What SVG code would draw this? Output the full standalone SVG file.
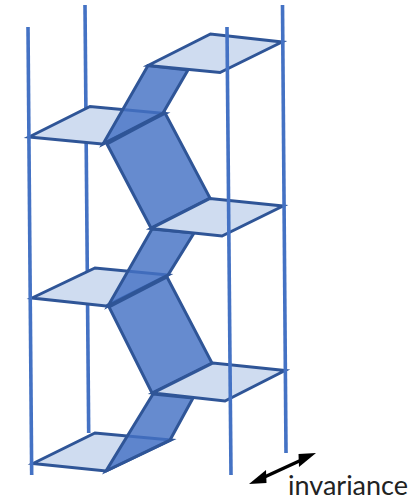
<svg xmlns="http://www.w3.org/2000/svg" width="414" height="501" viewBox="0 0 414 501">
<style>
.v{stroke:#4472c4;stroke-width:3.6;fill:none}
.p{fill:#cfdcf0;stroke:#2f5597;stroke-width:3;stroke-linejoin:miter}
.r{fill:#4472c4;fill-opacity:.82;stroke:#2f5597;stroke-width:3;stroke-linejoin:miter}
text{font-family:"Lato","Open Sans",sans-serif;font-size:27px;fill:#222}
</style>
<g id="connectors-back">
<path class="v" d="M85 5L88.700 433"/>
</g>
<g id="plane-2"><path class="p" d="M29 137L90 106.500L165 113.500L102 144Z"/></g>
<g id="plane-4"><path class="p" d="M32 298L95 268L168 275L106 306Z"/></g>
<g id="plane-6"><path class="p" d="M33 463.500L95 433L171 440L106 471Z"/></g>
<g id="ribbon-1"><path class="r" d="M148 65.500L188 70L163 113L103 144Z"/></g>
<g id="ribbon-3"><path class="r" d="M152 229L194 233L168 275L108 306Z"/></g>
<g id="ribbon-5"><path class="r" d="M153 394L193 398L170 440L106 471Z"/></g>
<g id="ribbon-2"><path class="r" d="M107 144L165 113L210 198L151 228Z"/></g>
<g id="ribbon-4"><path class="r" d="M109 307L167 277L212 363L152 393Z"/></g>
<g id="plane-1"><path class="p" d="M148 65.500L210.500 34L282 42L220 72.500Z"/></g>
<g id="plane-3"><path class="p" d="M151 228.500L210 198.500L283 206L222 236Z"/></g>
<g id="plane-5"><path class="p" d="M153 393L213 363L285 370.500L225 401Z"/></g>
<g id="connectors">
<path class="v" d="M28 27L31.700 475"/>
<path class="v" d="M227 27L231 475"/>
<path class="v" d="M282.500 5L286 453"/>
<path d="M258 480L308 457" stroke="#000" stroke-width="3.500" fill="none"/>
<path d="M249 484L266 470L266.500 483Z" fill="#000"/>
<path d="M316 453L299 467L298.500 454Z" fill="#000"/>
</g>
<g id="label"><text x="288" y="495">invariance</text></g>
</svg>
